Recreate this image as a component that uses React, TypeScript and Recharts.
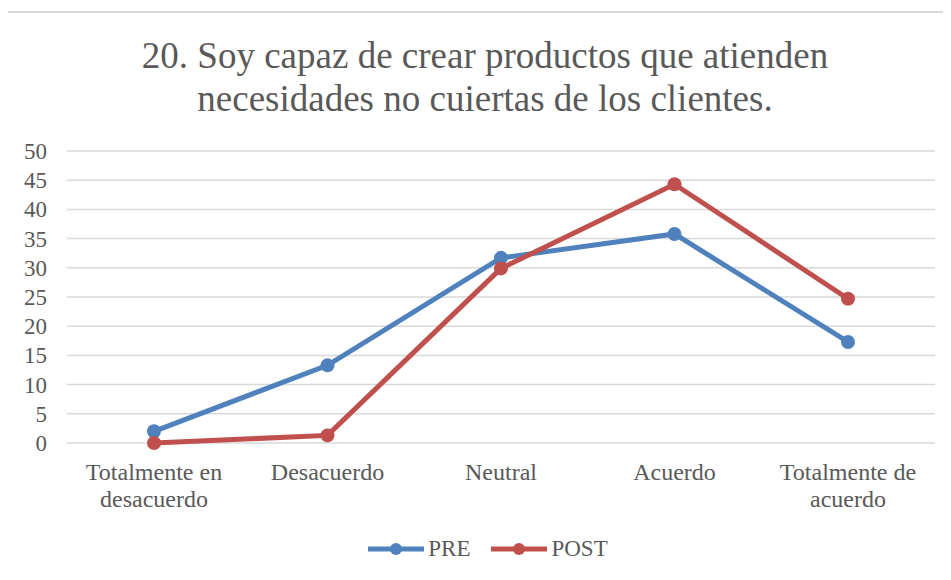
import { LineChart, Line, XAxis, YAxis, CartesianGrid, Legend } from "recharts"

const categories = [
  "Totalmente en desacuerdo",
  "Desacuerdo",
  "Neutral",
  "Acuerdo",
  "Totalmente de acuerdo",
]
// etiquetas del eje X partidas en dos líneas como en el original
const categoryLines = [
  ["Totalmente en", "desacuerdo"],
  ["Desacuerdo"],
  ["Neutral"],
  ["Acuerdo"],
  ["Totalmente de", "acuerdo"],
]
const preValues = [2.0, 13.3, 31.7, 35.8, 17.3]
const postValues = [0, 1.3, 29.9, 44.3, 24.7]
const yTicks = [0, 5, 10, 15, 20, 25, 30, 35, 40, 45, 50]

const TITLE_LINES = [
  "20. Soy capaz de crear productos que atienden",
  "necesidades no cuiertas de los clientes.",
]

const BLUE = "#4F81BD"
const RED = "#C0504D"
const TEXT = "#595959"
const GRID = "#D9D9D9"
const FONT = "'Liberation Serif', 'Times New Roman', serif"

const data = categories.map((c, i) => ({
  name: c,
  PRE: preValues[i],
  POST: postValues[i],
}))

const series = [
  { key: "PRE", color: BLUE },
  { key: "POST", color: RED },
]

function XTick({ x, y, payload, index }: any) {
  const lines = categoryLines[index] ?? [payload.value]
  return (
    <text x={x} y={y} textAnchor="middle" fill={TEXT} fontSize={24} style={{ fontFamily: FONT }}>
      {lines.map((l: string, i: number) => (
        <tspan key={i} x={x} dy={i === 0 ? 37 : 27}>{l}</tspan>
      ))}
    </text>
  )
}

function YTick({ x, y, payload }: any) {
  return (
    <text x={x - 20} y={y} dy={8} textAnchor="end" fill={TEXT} fontSize={23} style={{ fontFamily: FONT }}>
      {payload.value}
    </text>
  )
}

function LegendContent() {
  return (
    <div style={{ display: "flex", justifyContent: "center", alignItems: "center", height: 24, fontFamily: FONT, fontSize: 23, color: TEXT }}>
      {series.map((s, i) => (
        <div key={s.key} style={{ display: "flex", alignItems: "center", marginLeft: i === 0 ? 0 : 21 }}>
          <svg width={56} height={14} style={{ marginRight: 4 }}>
            <line x1={0} y1={7} x2={56} y2={7} stroke={s.color} strokeWidth={5} strokeLinecap="round" />
            <circle cx={28} cy={7} r={6} fill={s.color} />
          </svg>
          <span>{s.key}</span>
        </div>
      ))}
    </div>
  )
}

export default function App() {
  return (
    <div style={{ position: "relative", width: 951, height: 580, margin: -8, overflow: "hidden", background: "#fff" }}>
      <div style={{ position: "absolute", left: 4, top: 11, width: 1000, height: 600, borderTop: `2px solid ${GRID}`, borderLeft: `2px solid ${GRID}` }} />
      <div style={{ position: "absolute", left: 0, top: 34, width: 970, textAlign: "center", fontFamily: FONT, fontSize: 37, lineHeight: "43px", color: TEXT }}>
        {TITLE_LINES.map(t => <div key={t}>{t}</div>)}
      </div>
      <div style={{ position: "absolute", left: 0, top: 0 }}>
        <LineChart width={951} height={580} data={data} margin={{ top: 151, right: 16, bottom: 53, left: 0 }}>
          <CartesianGrid vertical={false} stroke={GRID} strokeWidth={1.5} />
          <XAxis
            dataKey="name"
            axisLine={false}
            tickLine={false}
            tickSize={0}
            tickMargin={0}
            height={60}
            interval={0}
            padding={{ left: 87, right: 87 }}
            tick={<XTick />}
          />
          <YAxis
            domain={[0, 50]}
            ticks={yTicks}
            axisLine={false}
            tickLine={false}
            tickSize={0}
            tickMargin={0}
            width={67}
            tick={<YTick />}
          />
          {series.map(s => (
            <Line
              key={s.key}
              dataKey={s.key}
              stroke={s.color}
              strokeWidth={5}
              dot={{ r: 7, fill: s.color, stroke: s.color, strokeWidth: 0 }}
              activeDot={false}
              isAnimationActive={false}
            />
          ))}
          <Legend content={<LegendContent />} wrapperStyle={{ top: 537, left: 0, width: 976 }} />
        </LineChart>
      </div>
    </div>
  )
}
